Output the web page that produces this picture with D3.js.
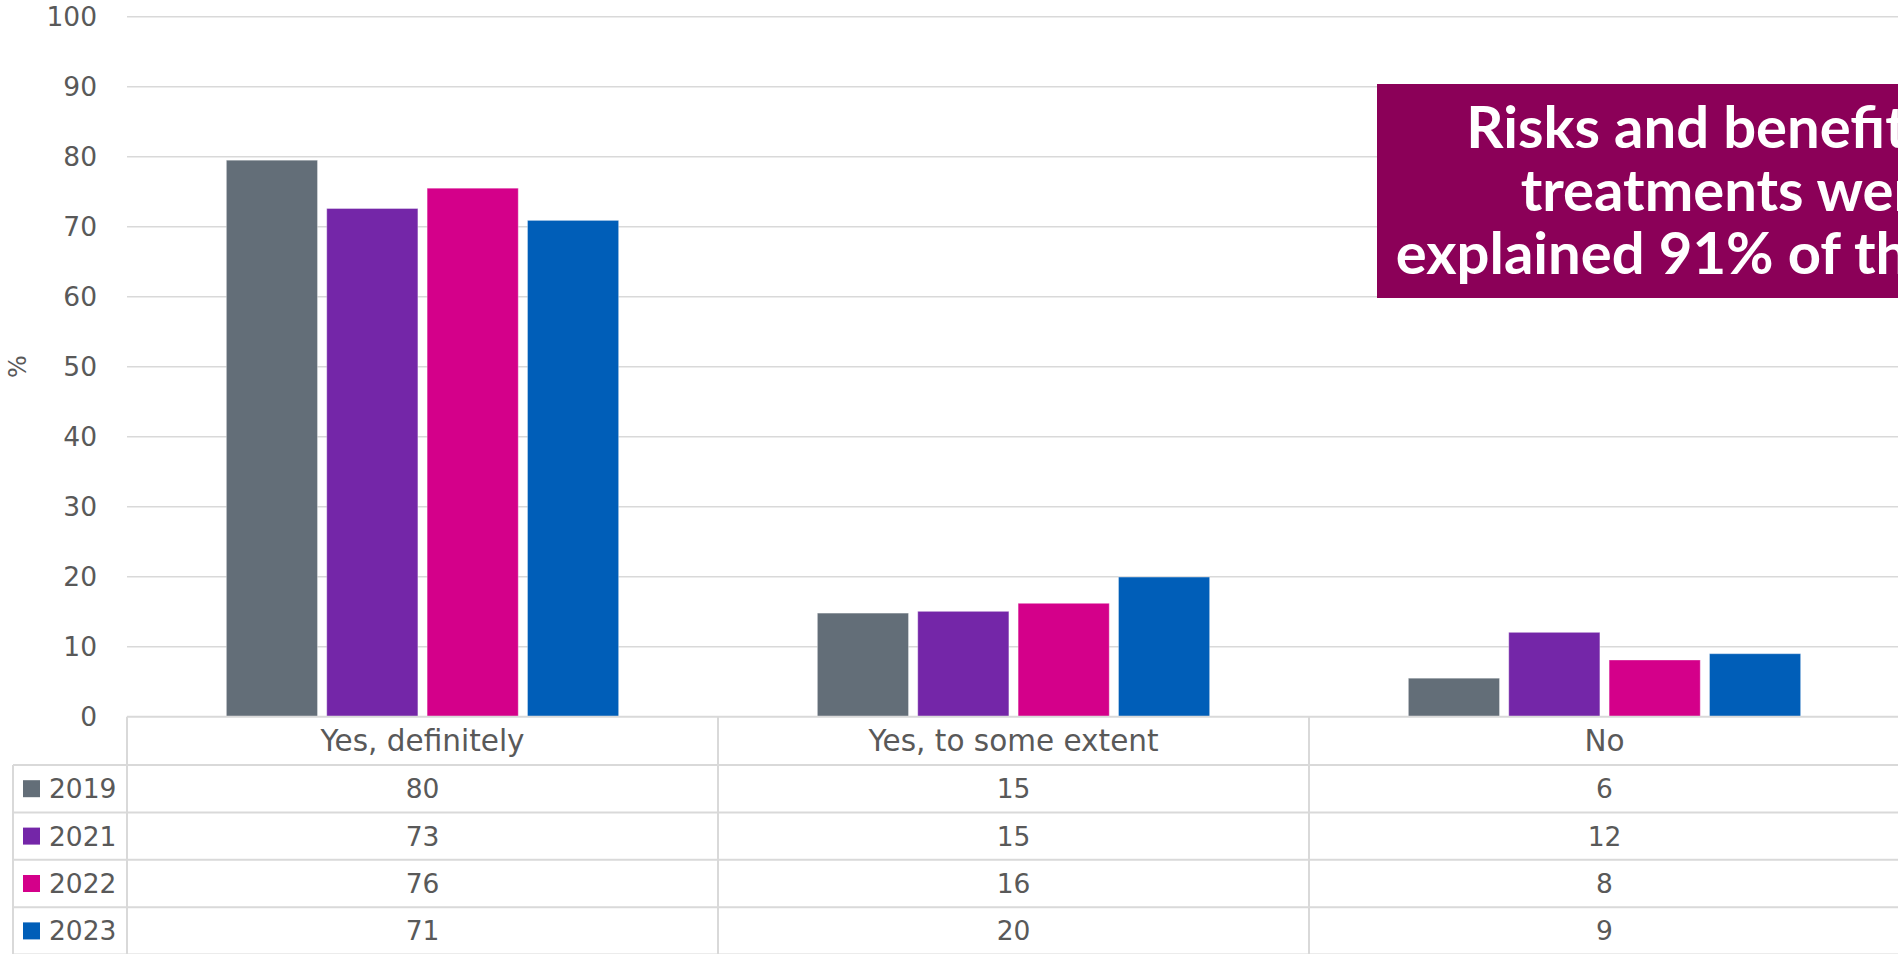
<!DOCTYPE html>
<html>
<head>
<meta charset="utf-8">
<script src="https://cdn.jsdelivr.net/npm/d3@7"></script>
<style>
  html, body { margin: 0; padding: 0; background: #fff; overflow: hidden; }
  svg { display: block; }
  text { font-family: "DejaVu Sans", sans-serif; }
</style>
</head>
<body>
<svg id="chart" width="1898" height="954"></svg>
<script>
// Survey responses by year (percent)
const categories = ["Yes, definitely", "Yes, to some extent", "No"];
const years = ["2019", "2021", "2022", "2023"];
const values2019 = [79.5, 14.8, 5.5];
const values2021 = [72.6, 15.05, 12.05];
const values2022 = [75.5, 16.2, 8.1];
const values2023 = [70.9, 19.95, 9.0];
const yTicks = [0, 10, 20, 30, 40, 50, 60, 70, 80, 90, 100];
const yearColors = ["#636e78", "#7426a8", "#d4008a", "#005eb8"];
const titleLines = ["Risks and benefits of", "treatments were", "explained 91% of the time"];

const series = [values2019, values2021, values2022, values2023];

const plot = { left: 127, right: 1900, top: 16.7, bottom: 716.7 };
const rowH = 47.4;
const headerH = 48.3;
const legendLeft = 13;
const textColor = "#595959";
const lineColor = "#d9d9d9";
const labelSize = "29.5px";
const numberSize = "26.5px";

const svg = d3.select("#chart");

const x = d3.scaleBand().domain(categories).range([plot.left, plot.right]).padding(0);
const xInner = d3.scaleBand().domain(years).range([0, x.bandwidth()])
  .paddingInner(0.092).paddingOuter(0.99);
const y = d3.scaleLinear().domain([0, 100]).range([plot.bottom, plot.top]);

// Gridlines
svg.append("g").selectAll("line").data(yTicks.filter(d => d > 0)).join("line")
  .attr("x1", plot.left).attr("x2", plot.right)
  .attr("y1", d => y(d)).attr("y2", d => y(d))
  .attr("stroke", lineColor).attr("stroke-width", 1.6);

// Y axis tick labels
const yAxis = d3.axisLeft(y).tickValues(yTicks).tickSize(0).tickPadding(30);
const gy = svg.append("g").attr("transform", `translate(${plot.left},0)`).call(yAxis);
gy.select(".domain").remove();
gy.selectAll("text").attr("fill", textColor).style("font-size", numberSize)
  .style("font-family", "'DejaVu Sans', sans-serif");

// Y axis title
svg.append("text")
  .attr("transform", `translate(26,${(plot.top + plot.bottom) / 2}) rotate(-90)`)
  .attr("text-anchor", "middle")
  .attr("fill", textColor).style("font-size", "24px")
  .text("%");

// Bars
const barData = [];
series.forEach((vals, si) => vals.forEach((v, ci) =>
  barData.push({ year: years[si], cat: categories[ci], value: v, color: yearColors[si] })));

svg.append("g").selectAll("rect").data(barData).join("rect")
  .attr("x", d => x(d.cat) + xInner(d.year))
  .attr("width", xInner.bandwidth())
  .attr("y", d => y(d.value))
  .attr("height", d => y(0) - y(d.value))
  .attr("fill", d => d.color)
  .attr("stroke", "#ffffff").attr("stroke-opacity", 0.35).attr("stroke-width", 1);

// Data table below the plot
const table = svg.append("g");
const tableTop = plot.bottom;
const headerBottom = tableTop + headerH;
const tableBottom = headerBottom + rowH * years.length;

// Horizontal rules
table.append("line").attr("x1", plot.left).attr("x2", plot.right)
  .attr("y1", tableTop).attr("y2", tableTop)
  .attr("stroke", lineColor).attr("stroke-width", 2);
d3.range(years.length + 1).forEach(i => {
  const yy = headerBottom + i * rowH;
  table.append("line").attr("x1", legendLeft).attr("x2", plot.right)
    .attr("y1", yy).attr("y2", yy)
    .attr("stroke", lineColor).attr("stroke-width", 2);
});
// Vertical rules
table.append("line").attr("x1", legendLeft).attr("x2", legendLeft)
  .attr("y1", headerBottom).attr("y2", tableBottom)
  .attr("stroke", lineColor).attr("stroke-width", 2);
categories.concat([null]).forEach((c, i) => {
  const xx = plot.left + i * x.bandwidth();
  table.append("line").attr("x1", xx).attr("x2", xx)
    .attr("y1", tableTop).attr("y2", tableBottom)
    .attr("stroke", lineColor).attr("stroke-width", 2);
});

// Category headers
table.selectAll("text.cat").data(categories).join("text").attr("class", "cat")
  .attr("x", d => x(d) + x.bandwidth() / 2)
  .attr("y", tableTop + headerH / 2)
  .attr("dy", "0.36em").attr("text-anchor", "middle")
  .attr("fill", textColor).style("font-size", labelSize)
  .text(d => d);

// Legend keys and values per year
const fmt = d3.format(".0f");
years.forEach((yr, si) => {
  const cy = headerBottom + si * rowH + rowH / 2;
  table.append("rect").attr("x", 23).attr("y", cy - 8.5).attr("width", 17).attr("height", 17)
    .attr("fill", yearColors[si]);
  table.append("text").attr("x", 49).attr("y", cy).attr("dy", "0.36em")
    .attr("fill", textColor).style("font-size", numberSize).text(yr);
  series[si].forEach((v, ci) => {
    table.append("text")
      .attr("x", x(categories[ci]) + x.bandwidth() / 2).attr("y", cy)
      .attr("dy", "0.36em").attr("text-anchor", "middle")
      .attr("fill", textColor).style("font-size", numberSize)
      .text(fmt(v));
  });
});

// Highlight box
const box = svg.append("g");
box.append("rect").attr("x", 1377).attr("y", 84).attr("width", 720).attr("height", 214)
  .attr("fill", "#8b0058");
const titleCx = 1733;
titleLines.forEach((t, i) => {
  box.append("text").attr("x", titleCx).attr("y", 148 + i * 63)
    .attr("text-anchor", "middle").attr("fill", "#ffffff")
    .style("font-family", "Lato, sans-serif")
    .style("font-size", "58px").style("font-weight", 700)
    .text(t);
});
</script>
</body>
</html>
